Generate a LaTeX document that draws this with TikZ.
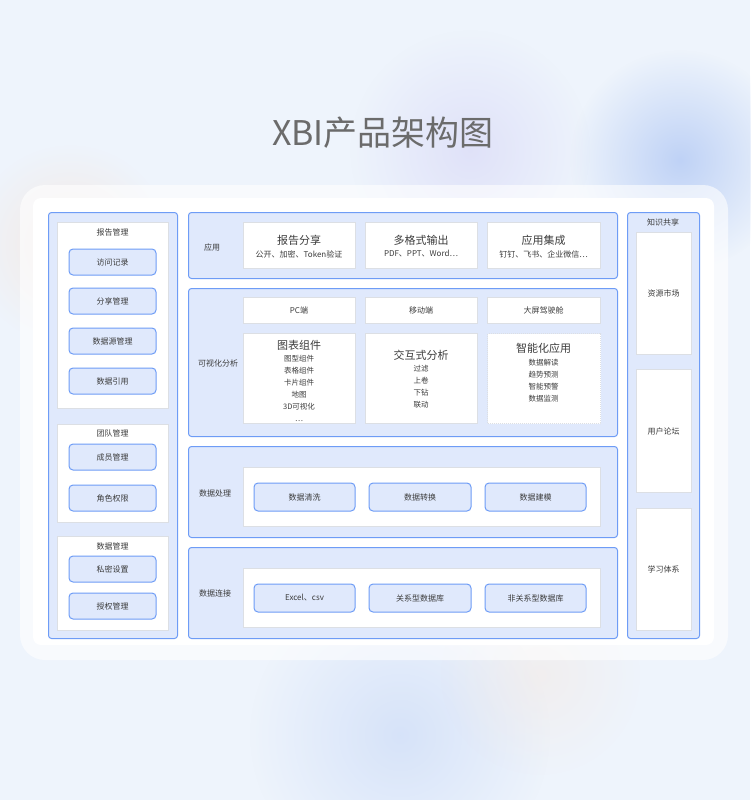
\documentclass[tikz,border=0pt]{standalone}
\usepackage{fontspec}
\setmainfont{Noto Sans CJK SC}
\usepackage{xcolor}
\usepackage{tikz}
\usetikzlibrary{fadings}

\definecolor{bgbase}{HTML}{EEF4FC}
\definecolor{bluefill}{HTML}{E0E9FC}
\definecolor{blueline}{HTML}{6E9CF6}
\definecolor{grayline}{HTML}{DCDFE4}
\definecolor{textcol}{HTML}{3C3C3C}
\definecolor{titlecol}{HTML}{6B6B6B}
\definecolor{blobblue}{HTML}{BFD2F6}
\definecolor{blobviolet}{HTML}{DCDDF8}
\definecolor{bloborange}{HTML}{F6E6DC}

\tikzfading[name=blobfade, inner color=transparent!0, outer color=transparent!100]

\tikzset{
    layer/.style={draw=blueline, fill=bluefill, rounded corners=3pt, line width=1pt, anchor=north west, inner sep=0pt},
    panel/.style={draw=grayline, fill=white, line width=1pt, anchor=north west, inner sep=0pt},
    smartpanel/.style={panel, dash pattern=on 1pt off 1pt},
    btn/.style={draw=blueline, fill=bluefill, rounded corners=4pt, line width=1pt, minimum height=26pt, text=textcol, font=\fontsize{8}{10}\selectfont},
    lbl/.style={text=textcol, font=\fontsize{8}{10}\selectfont},
    cardtitle/.style={text=textcol, font=\fontsize{11}{13}\selectfont},
    cardlist/.style={text=textcol, align=center, anchor=north, font=\fontsize{7.5}{12}\selectfont},
    blob/.style={path fading=blobfade, fill=#1},
}

\begin{document}
\begin{tikzpicture}[x=1pt, y=-1pt]
    \useasboundingbox (0,0) rectangle (750,800);
    % background
    \fill[bgbase] (0,0) rectangle (750,800);
    \fill[blob=blobblue] (680,160) circle (110);
    \fill[blob=blobviolet, opacity=0.8] (470,150) circle (120);
    \fill[blob=bloborange, opacity=0.8] (70,245) circle (100);
    \fill[blob=blobblue, opacity=0.5] (400,735) circle (150);
    \fill[blob=bloborange, opacity=0.4] (540,675) circle (100);

    \node[text=titlecol, font=\fontsize{34}{40}\selectfont] (title) at (383,133) {XBI产品架构图};

    % card
    \fill[white, opacity=0.6, rounded corners=25pt] (20,185) rectangle (728,660);
    \fill[white, rounded corners=8pt] (33,198) rectangle (714,645);

    % left column
    \node[layer, minimum width=129pt, minimum height=426pt] (mgmt) at (48,212) {};
    \node[panel, minimum width=111pt, minimum height=186pt] (report) at (57,222) {};
    \node[lbl] (reportT) at (112.5,232) {报告管理};
    \node[btn, minimum width=87pt] (visit) at (112.5,262) {访问记录};
    \node[btn, minimum width=87pt] (share) at (112.5,301) {分享管理};
    \node[btn, minimum width=87pt] (source) at (112.5,341) {数据源管理};
    \node[btn, minimum width=87pt] (quote) at (112.5,381) {数据引用};
    \node[panel, minimum width=111pt, minimum height=98pt] (team) at (57,424) {};
    \node[lbl] (teamT) at (112.5,433) {团队管理};
    \node[btn, minimum width=87pt] (member) at (112.5,457) {成员管理};
    \node[btn, minimum width=87pt] (role) at (112.5,498) {角色权限};
    \node[panel, minimum width=111pt, minimum height=94pt] (datam) at (57,536) {};
    \node[lbl] (datamT) at (112.5,546) {数据管理};
    \node[btn, minimum width=87pt] (privacy) at (112.5,569) {私密设置};
    \node[btn, minimum width=87pt] (grant) at (112.5,606) {授权管理};

    % application layer
    \node[layer, minimum width=429pt, minimum height=66pt] (app) at (188,212) {};
    \node[lbl] (appT) at (212,247) {应用};
    \node[panel, minimum width=112pt, minimum height=46pt] (app1) at (243,222) {};
    \node[cardtitle] at (299,240) {报告分享};
    \node[lbl] at (299,254) {公开、加密、Token验证};
    \node[panel, minimum width=112pt, minimum height=46pt] (app2) at (365,222) {};
    \node[cardtitle] at (421,240) {多格式输出};
    \node[lbl] at (421,254) {PDF、PPT、Word…};
    \node[panel, minimum width=113pt, minimum height=46pt] (app3) at (487,222) {};
    \node[cardtitle] at (543.5,240) {应用集成};
    \node[lbl] at (543.5,254) {钉钉、飞书、企业微信…};

    % visual analysis layer
    \node[layer, minimum width=429pt, minimum height=148pt] (vis) at (188,288) {};
    \node[lbl] (visT) at (218,363) {可视化分析};
    \node[panel, minimum width=112pt, minimum height=26pt] (pc) at (243,297) {};
    \node[lbl] at (299,310) {PC端};
    \node[panel, minimum width=112pt, minimum height=26pt] (mobile) at (365,297) {};
    \node[lbl] at (421,310) {移动端};
    \node[panel, minimum width=113pt, minimum height=26pt] (screen) at (487,297) {};
    \node[lbl] at (543.5,310) {大屏驾驶舱};
    \node[panel, minimum width=112pt, minimum height=90pt] (chart) at (243,333) {};
    \node[cardtitle] at (299,345) {图表组件};
    \node[cardlist] at (299,352) {图型组件\\表格组件\\卡片组件\\地图\\3D可视化\\…};
    \node[panel, minimum width=112pt, minimum height=90pt] (inter) at (365,333) {};
    \node[cardtitle] at (421,355) {交互式分析};
    \node[cardlist] at (421,362) {过滤\\上卷\\下钻\\联动};
    \node[smartpanel, minimum width=113pt, minimum height=90pt] (smart) at (487,333) {};
    \node[cardtitle] at (543.5,348) {智能化应用};
    \node[cardlist] at (543.5,356) {数据解读\\趋势预测\\智能预警\\数据监测};

    % data processing layer
    \node[layer, minimum width=429pt, minimum height=91pt] (proc) at (188,446) {};
    \node[lbl] (procT) at (215,493) {数据处理};
    \node[panel, minimum width=357pt, minimum height=59pt] (procP) at (243,467) {};
    \node[btn, minimum width=101pt, minimum height=28pt] (clean) at (304.5,497) {数据清洗};
    \node[btn, minimum width=102pt, minimum height=28pt] (trans) at (420,497) {数据转换};
    \node[btn, minimum width=101pt, minimum height=28pt] (model) at (535.5,497) {数据建模};

    % data connection layer
    \node[layer, minimum width=429pt, minimum height=91pt] (conn) at (188,547) {};
    \node[lbl] (connT) at (215,593) {数据连接};
    \node[panel, minimum width=357pt, minimum height=59pt] (connP) at (243,568) {};
    \node[btn, minimum width=101pt, minimum height=28pt] (excel) at (304.5,598) {Excel、csv};
    \node[btn, minimum width=102pt, minimum height=28pt] (rdb) at (420,598) {关系型数据库};
    \node[btn, minimum width=101pt, minimum height=28pt] (nrdb) at (535.5,598) {非关系型数据库};

    % right column
    \node[layer, minimum width=72pt, minimum height=426pt] (know) at (627,212) {};
    \node[lbl] (knowT) at (663,222) {知识共享};
    \node[panel, minimum width=55pt, minimum height=122pt] (market) at (636,232) {};
    \node[lbl] at (663.5,293) {资源市场};
    \node[panel, minimum width=55pt, minimum height=123pt] (forum) at (636,369) {};
    \node[lbl] at (663.5,431) {用户论坛};
    \node[panel, minimum width=55pt, minimum height=122pt] (learn) at (636,508) {};
    \node[lbl] at (663.5,569) {学习体系};
\end{tikzpicture}
\end{document}
